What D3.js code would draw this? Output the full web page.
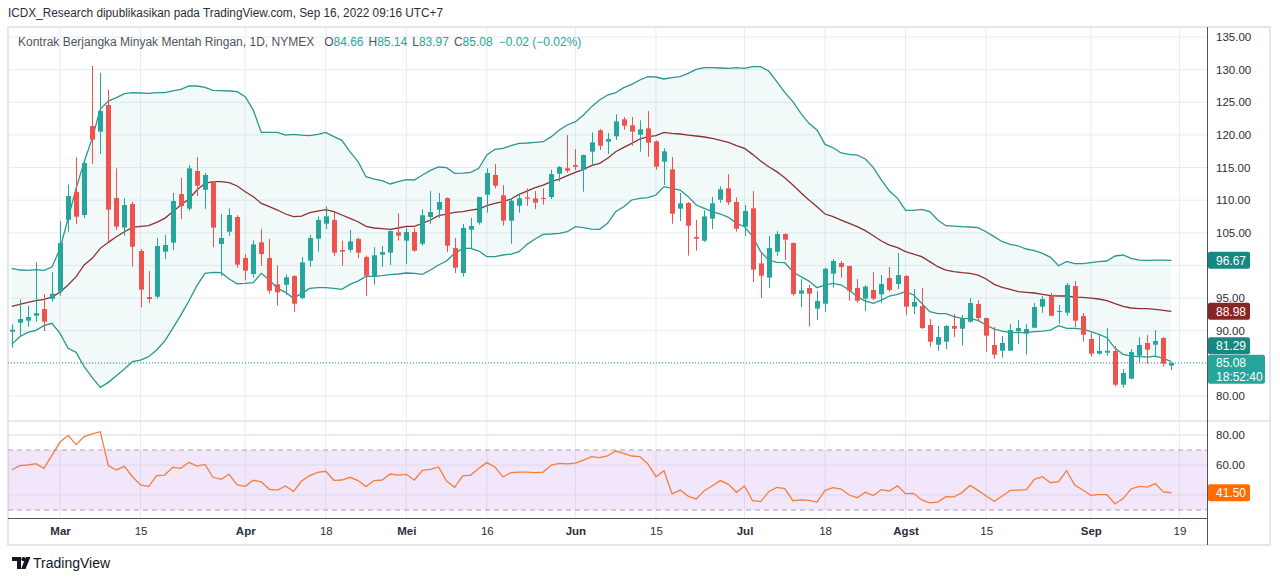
<!DOCTYPE html>
<html>
<head>
<meta charset="utf-8">
<script src="https://cdn.jsdelivr.net/npm/d3@7"></script>
<style>
  body { margin: 0; background: #fff; }
  svg { display: block; font-family: "Liberation Sans", Arial, sans-serif; }
</style>
</head>
<body>
<div id="chart"></div>
<script>
// trading days shown (2022, month-day)
const dates = [
  "02-18","02-22","02-23","02-24","02-25","02-28",
  "03-01","03-02","03-03","03-04","03-07","03-08","03-09","03-10","03-11","03-14","03-15","03-16","03-17","03-18","03-21","03-22","03-23","03-24","03-25","03-28","03-29","03-30","03-31",
  "04-01","04-04","04-05","04-06","04-07","04-08","04-11","04-12","04-13","04-14","04-18","04-19","04-20","04-21","04-22","04-25","04-26","04-27","04-28","04-29",
  "05-02","05-03","05-04","05-05","05-06","05-09","05-10","05-11","05-12","05-13","05-16","05-17","05-18","05-19","05-20","05-23","05-24","05-25","05-26","05-27","05-31",
  "06-01","06-02","06-03","06-06","06-07","06-08","06-09","06-10","06-13","06-14","06-15","06-16","06-17","06-21","06-22","06-23","06-24","06-27","06-28","06-29","06-30",
  "07-01","07-05","07-06","07-07","07-08","07-11","07-12","07-13","07-14","07-15","07-18","07-19","07-20","07-21","07-22","07-25","07-26","07-27","07-28","07-29",
  "08-01","08-02","08-03","08-04","08-05","08-08","08-09","08-10","08-11","08-12","08-15","08-16","08-17","08-18","08-19","08-22","08-23","08-24","08-25","08-26","08-29","08-30","08-31",
  "09-01","09-02","09-06","09-07","09-08","09-09","09-12","09-13","09-14","09-15","09-16"
];

const open = [
  89.85,91.23,91.54,92.3,93.33,94.9,
  95.98,107.0,111.25,107.73,121.36,120.5,124.58,110.33,105.79,109.41,102.21,95.16,95.21,102.11,103.49,110.94,108.7,114.47,111.6,112.9,103.3,105.17,107.42,
  101.14,98.69,103.54,101.14,97.1,97.05,98.38,95.0,100.73,104.1,106.4,106.96,102.36,102.4,104.05,101.29,98.33,101.65,101.96,105.07,
  103.8,105.12,103.33,107.42,108.54,110.33,102.67,98.84,105.48,106.55,110.84,113.86,110.74,106.86,109.16,110.43,110.28,110.33,110.48,114.06,114.88,
  115.39,114.62,117.43,120.7,118.96,119.78,122.39,121.47,120.04,121.0,119.01,115.9,114.72,108.7,109.56,104.36,103.8,107.17,110.07,111.81,109.72,
  105.94,108.75,100.32,98.13,102.11,104.82,103.44,95.67,96.54,93.38,94.14,98.74,100.37,99.91,96.54,94.91,96.24,95.57,98.07,97.15,
  98.38,93.68,93.78,90.87,87.86,88.32,90.72,90.31,91.38,94.09,91.94,87.81,86.94,86.94,89.9,89.55,90.46,93.68,95.32,92.87,92.76,96.85,92.25,
  88.73,86.48,86.63,86.89,81.73,82.65,86.17,88.12,87.86,88.88,84.66
];
const high = [
  90.97,94.8,93.8,100.47,95.62,99.0,
  106.8,112.4,116.6,116.0,130.56,129.5,126.88,114.88,110.28,109.77,102.52,99.15,104.2,104.66,111.1,113.4,115.39,116.6,114.16,112.95,107.88,108.75,107.68,
  101.75,103.85,105.58,104.05,100.0,98.64,98.5,101.29,104.66,107.52,109.05,108.19,103.8,105.43,104.26,101.5,102.8,102.98,105.38,107.98,
  105.84,105.69,108.6,111.4,111.1,110.43,104.2,106.35,107.27,110.49,114.88,115.54,112.33,110.28,110.89,111.81,111.4,111.81,114.7,115.24,119.98,
  117.84,117.0,120.39,120.9,120.29,123.15,122.74,122.74,122.23,123.66,119.17,117.94,116.6,111.1,109.72,106.96,108.44,110.49,112.12,114.0,110.43,
  109.26,111.4,102.0,104.5,105.27,104.92,103.5,97.92,97.0,96.08,99.66,100.98,100.68,99.95,97.92,97.0,98.99,98.53,99.76,101.9,
  98.53,96.39,96.54,91.79,90.72,90.87,92.56,92.4,95.01,94.65,92.0,90.57,89.19,91.02,91.64,91.02,94.24,95.32,95.78,93.94,97.31,97.62,92.71,
  89.65,89.49,90.41,87.66,84.13,87.2,89.03,89.34,90.1,89.03,85.14
];
const low = [
  87.4,89.1,90.62,91.38,89.95,94.45,
  95.37,105.17,106.35,107.3,115.59,117.07,103.64,105.43,104.56,99.81,93.58,94.2,94.9,100.98,102.36,107.1,108.39,110.64,108.65,102.82,98.4,104.5,99.66,
  97.72,98.13,99.96,95.67,93.83,95.47,92.92,94.86,99.81,102.11,105.58,101.45,99.96,102.0,101.09,95.37,97.05,99.81,100.07,103.8,
  100.22,102.11,103.03,106.35,107.27,102.06,98.84,98.28,102.67,106.25,108.08,111.81,106.09,103.33,108.08,109.16,108.65,109.31,110.18,112.84,114.21,
  114.62,111.3,115.29,117.69,117.07,119.22,120.8,118.35,117.43,116.66,114.67,112.33,106.4,106.81,101.5,102.26,103.59,105.58,109.62,109.26,105.17,
  104.5,97.46,95.01,96.59,101.5,100.83,95.37,93.63,90.62,91.64,92.92,96.59,98.13,94.6,94.29,93.02,94.7,94.24,95.98,96.39,
  92.4,92.56,90.26,87.55,86.94,87.2,89.03,87.71,91.23,91.38,86.79,85.71,85.87,86.9,88.01,86.33,90.4,92.76,92.25,91.08,92.3,90.57,88.32,
  86.02,86.33,86.17,81.43,81.27,82.6,85.1,84.95,86.17,84.49,83.97
];
const close = [
  90.16,91.79,92.1,92.7,91.38,95.67,
  103.44,110.64,107.47,115.69,119.27,123.66,108.54,105.94,109.26,102.87,96.29,94.86,102.98,103.13,109.87,109.1,114.88,112.22,113.86,105.79,104.2,107.73,100.12,
  99.2,103.23,101.75,96.13,95.88,98.18,94.14,100.47,104.2,106.96,107.52,101.96,102.11,103.69,101.96,98.43,101.55,102.06,105.27,104.56,
  105.12,102.26,107.68,108.19,109.72,103.03,99.66,105.74,106.04,110.49,114.16,112.22,106.86,109.92,110.28,110.23,109.62,110.23,114.0,115.08,114.52,
  115.13,116.92,118.86,118.35,119.37,122.08,121.41,120.5,120.85,118.81,115.13,117.48,107.93,109.51,106.09,104.1,107.52,109.51,111.66,109.67,105.63,
  108.34,99.35,98.43,102.67,104.82,103.95,95.62,96.18,95.67,94.55,99.5,100.68,99.76,96.13,94.6,96.75,94.91,97.15,96.24,98.53,
  93.68,94.4,90.41,88.32,89.03,90.72,90.31,91.94,94.24,91.94,89.24,86.33,88.12,90.1,90.41,90.26,93.63,94.86,92.3,93.02,97.0,91.54,89.39,
  86.48,86.89,86.94,81.73,83.52,86.74,87.81,87.09,88.42,84.95,85.08
];

// Bollinger bands
const bbUpper = [
  99.55,99.3,99.25,99.35,99.25,99.76,
  102.6,107.2,111.8,115.9,119.47,123.97,125.19,125.7,126.32,126.47,126.42,126.37,126.47,126.47,126.73,126.98,127.49,127.49,127.29,126.83,126.78,126.73,126.62,
  125.86,123.8,120.39,120.39,120.39,119.98,120.09,119.98,119.88,120.09,120.39,119.73,119.17,117.43,115.9,113.6,113.24,112.99,112.48,112.84,
  113.14,113.09,113.86,114.57,115.08,114.98,114.11,114.16,114.26,114.88,116.92,117.79,117.94,118.35,118.71,118.76,118.86,118.96,119.73,120.75,121.52,
  122.03,123.05,124.33,125.35,126.11,126.47,127.24,127.75,128.41,128.92,128.87,128.57,128.77,128.92,129.43,130.05,130.3,130.3,130.25,130.2,130.3,
  130.2,130.45,130.45,129.79,128.16,126.52,125.09,123.3,121.77,120.75,118.55,118.04,117.23,117.02,116.92,116.31,114.98,113.09,111.4,110.28,
  108.44,108.44,108.6,108.24,106.96,106.09,106.04,105.94,105.89,105.79,105.17,104.41,103.64,103.23,102.98,102.52,102.26,101.85,101.24,99.96,100.63,100.27,100.27,
  100.42,100.58,100.68,101.45,101.6,101.09,100.83,100.78,100.83,100.83,100.78
];
const bbMiddle = [
  93.73,94.04,94.35,94.6,94.81,95.16,
  95.88,97.0,98.28,100.07,101.09,102.62,103.54,104.41,105.17,105.84,105.99,106.09,106.6,107.22,108.24,109.26,110.18,111.56,112.58,112.84,112.84,112.68,112.17,
  111.3,110.54,109.51,109.0,108.49,107.88,107.47,107.57,108.08,108.34,108.54,108.24,107.73,107.22,106.7,105.99,105.74,105.63,105.53,105.74,
  105.99,105.99,106.45,106.96,107.62,107.88,108.14,108.24,108.49,108.65,109.16,109.51,109.77,110.18,110.89,111.4,111.91,112.32,112.84,113.24,113.75,
  114.26,114.72,115.29,115.64,116.41,117.43,118.09,118.71,119.37,119.73,119.88,120.39,120.24,120.14,119.98,119.83,119.68,119.47,119.17,118.86,118.35,
  117.94,117.02,116.0,115.13,114.37,113.45,112.33,111.15,110.03,109.0,107.88,107.47,106.96,106.45,105.94,105.33,104.56,103.74,103.13,102.72,
  102.11,101.75,101.34,100.58,99.81,99.3,99.04,98.89,98.79,98.53,97.92,97.1,96.64,96.34,95.98,95.88,95.78,95.57,95.37,95.32,95.32,95.16,95.11,
  95.01,94.86,94.6,94.14,93.73,93.48,93.38,93.38,93.27,93.12,92.97
];
const bbLower = [
  87.91,89.08,89.75,90.06,90.77,91.13,
  89.6,87.3,86.69,84.49,82.8,81.32,82.09,83.11,84.13,85.26,85.51,86.02,87.04,88.42,90.36,92.4,94.55,96.9,98.79,98.94,98.89,97.92,97.2,
  97.26,97.36,98.79,97.77,96.49,95.88,94.96,95.72,96.49,96.59,96.59,96.49,96.34,97.1,97.61,98.33,98.33,98.43,98.58,98.69,
  98.84,98.79,98.64,99.3,100.07,100.68,101.85,102.62,102.62,102.21,101.34,101.34,101.6,101.75,102.11,103.23,104.05,104.76,104.82,104.92,105.17,
  105.94,105.79,105.58,105.53,106.45,108.24,109.0,110.03,110.28,110.38,110.79,112.07,111.81,111.56,110.54,109.26,108.75,108.24,107.88,107.37,106.45,
  105.94,104.41,102.11,100.83,100.47,100.42,99.04,98.28,97.61,96.59,97.0,97.26,97.0,96.24,95.21,94.55,94.19,94.7,95.32,95.57,
  95.98,95.47,94.19,92.92,92.61,92.61,92.15,91.89,91.84,91.59,90.87,90.26,89.95,89.75,89.7,89.7,89.85,89.95,90.1,90.77,90.36,90.36,90.26,
  89.85,89.44,88.93,87.3,86.38,86.12,86.02,85.97,86.12,85.77,85.26
];

// RSI
const rsi = [
  56.7,59.6,60.0,60.9,57.8,66.4,
  75.3,79.8,73.6,78.9,80.7,82.2,59.6,56.7,59.1,52.2,46.7,45.6,52.9,53.3,58.4,57.8,61.8,59.3,60.4,51.8,50.4,53.8,46.7,
  45.8,49.8,48.7,43.8,43.3,46.0,42.4,49.3,52.9,55.1,55.8,49.8,50.0,51.8,49.6,45.6,49.6,50.0,54.0,53.3,
  53.8,50.0,56.4,57.1,58.7,49.3,45.1,52.7,53.3,57.8,61.6,58.7,52.0,54.9,55.3,55.3,54.9,55.3,60.0,61.1,60.7,
  61.3,63.3,65.6,64.9,66.0,69.3,67.8,66.0,65.6,60.7,52.2,56.2,40.7,43.3,39.3,37.3,42.9,46.2,49.6,47.1,41.8,
  46.0,36.2,35.6,42.2,45.1,44.2,36.2,36.7,36.4,35.3,43.1,44.9,44.0,40.0,38.2,41.8,39.6,43.6,42.7,46.2,
  40.9,41.1,36.7,34.7,35.3,38.9,38.7,41.6,46.4,43.1,39.3,35.8,39.3,43.1,43.3,43.6,50.4,52.2,48.2,48.9,56.2,46.7,43.3,
  39.8,40.2,40.2,34.0,37.6,44.0,45.8,45.3,47.6,42.0,41.5
];

// axis ticks and labels
const priceTicks = [80, 85, 90, 95, 100, 105, 110, 115, 120, 125, 130, 135];
const priceTickLabels = [80, 90, 95, 105, 110, 115, 120, 125, 130, 135]; // 85 and 100 sit under tags
const rsiGrid = [80, 60, 40];
const rsiTickLabels = [80, 60];
const xTickDates = ["03-01","03-15","04-01","04-18","05-02","05-16","06-01","06-15","07-01","07-18","08-01","08-15","09-01","09-19"];
const xTickLabels = ["Mar","15","Apr","18","Mei","16","Jun","15","Jul","18","Agst","15","Sep","19"];
const monthLabels = ["Mar","Apr","Mei","Jun","Jul","Agst","Sep"];

// end-of-line labels as printed on the price scale
const bandLabels = ["96.67", "88.98", "81.29"];
const lastPrice = 85.08;
const countdown = "18:52:40";
const rsiLabel = "41.50";

// layout
const width = 1280, height = 581;
const paneL = 8, paneR = 1207, frameR = 1270;
const mainTop = 27, mainBottom = 421, rsiBottom = 518, frameBottom = 545;

const svg = d3.select('#chart')
  .append('svg')
  .attr('width', width)
  .attr('height', height);

// scales
const x = d3.scaleLinear().domain([0, dates.length]).range([11.7, 1179.4]);
const y = d3.scaleLinear().domain([80, 135]).range([396, 37]);
const yR = d3.scaleLinear().domain([30, 70]).range([510, 450]);

const idxOf = d => { const i = dates.indexOf(d); return i < 0 ? dates.length : i; };
const idx = dates.map((d, i) => i);

// clip paths for the two panes
const defs = svg.append('defs');
defs.append('clipPath').attr('id', 'clipMain')
  .append('rect').attr('x', paneL).attr('y', mainTop).attr('width', paneR - paneL).attr('height', mainBottom - mainTop);
defs.append('clipPath').attr('id', 'clipRsi')
  .append('rect').attr('x', paneL).attr('y', mainBottom).attr('width', paneR - paneL).attr('height', rsiBottom - mainBottom);

// header text
svg.append('text')
  .attr('x', 8).attr('y', 17)
  .attr('font-size', 12).attr('fill', '#2a2e39')
  .attr('textLength', 435).attr('lengthAdjust', 'spacingAndGlyphs')
  .text('ICDX_Research dipublikasikan pada TradingView.com, Sep 16, 2022 09:16 UTC+7');

// outer frame
svg.append('rect')
  .attr('x', paneL).attr('y', mainTop)
  .attr('width', frameR - paneL).attr('height', frameBottom - mainTop)
  .attr('fill', 'none').attr('stroke', '#e3e6ea').attr('stroke-width', 2);

// grid lines
const grid = svg.append('g').attr('class', 'grid');
grid.selectAll('line.h')
  .data(priceTicks)
  .enter().append('line')
    .attr('class', 'h')
    .attr('x1', paneL).attr('x2', paneR)
    .attr('y1', d => y(d)).attr('y2', d => y(d))
    .attr('stroke', '#e6edf2');
grid.selectAll('line.v')
  .data(xTickDates)
  .enter().append('line')
    .attr('class', 'v')
    .attr('x1', d => x(idxOf(d))).attr('x2', d => x(idxOf(d)))
    .attr('y1', mainTop).attr('y2', rsiBottom)
    .attr('stroke', '#e6edf2');

// main pane
const main = svg.append('g').attr('clip-path', 'url(#clipMain)');

// bollinger fill + lines
const area = d3.area()
  .x(i => x(i))
  .y0(i => y(bbLower[i]))
  .y1(i => y(bbUpper[i]));
main.append('path').datum(idx)
  .attr('d', area)
  .attr('fill', 'rgba(38,150,154,0.06)');

const bandLine = arr => d3.line().x(i => x(i)).y(i => y(arr[i]));
main.append('path').datum(idx)
  .attr('d', bandLine(bbUpper))
  .attr('fill', 'none').attr('stroke', '#2b9690').attr('stroke-width', 1.3);
main.append('path').datum(idx)
  .attr('d', bandLine(bbLower))
  .attr('fill', 'none').attr('stroke', '#2b9690').attr('stroke-width', 1.3);
main.append('path').datum(idx)
  .attr('d', bandLine(bbMiddle))
  .attr('fill', 'none').attr('stroke', '#8b3232').attr('stroke-width', 1.3);

// last price dotted line
main.append('line')
  .attr('x1', paneL).attr('x2', paneR)
  .attr('y1', y(lastPrice)).attr('y2', y(lastPrice))
  .attr('stroke', '#26a69a').attr('stroke-width', 1)
  .attr('stroke-dasharray', '1,2');

// candles
const up = '#26a69a', down = '#ef5350';
const candles = main.selectAll('g.candle')
  .data(idx)
  .enter().append('g')
    .attr('class', 'candle');

candles.append('line')
  .attr('x1', i => Math.round(x(i)) + 0.5)
  .attr('x2', i => Math.round(x(i)) + 0.5)
  .attr('y1', i => y(high[i]))
  .attr('y2', i => y(low[i]))
  .attr('stroke', i => close[i] >= open[i] ? up : down)
  .attr('stroke-width', 1);

candles.append('rect')
  .attr('x', i => Math.round(x(i)) - 2)
  .attr('width', 5)
  .attr('y', i => y(Math.max(open[i], close[i])))
  .attr('height', i => Math.max(1, Math.abs(y(open[i]) - y(close[i]))))
  .attr('fill', i => close[i] >= open[i] ? up : down);

// legend
const legend = svg.append('text')
  .attr('x', 18).attr('y', 46)
  .attr('font-size', 12).attr('fill', '#50535e');
legend.append('tspan').text('Kontrak Berjangka Minyak Mentah Ringan, 1D, NYMEX');
const ohlc = [['O', open[144]], ['H', high[144]], ['L', low[144]], ['C', close[144]]];
ohlc.forEach(([k, v], n) => {
  legend.append('tspan').attr('dx', n === 0 ? 10 : 5).text(k);
  legend.append('tspan').attr('fill', up).text(v.toFixed(2));
});
legend.append('tspan').attr('dx', 6).attr('fill', up)
  .text('\u22120.02 (\u22120.02%)');

// rsi pane
const rsiG = svg.append('g').attr('clip-path', 'url(#clipRsi)');
rsiG.append('rect')
  .attr('x', paneL).attr('width', paneR - paneL)
  .attr('y', yR(70)).attr('height', yR(30) - yR(70))
  .attr('fill', 'rgba(170,90,230,0.15)');
rsiG.selectAll('line.rg')
  .data(rsiGrid)
  .enter().append('line')
    .attr('class', 'rg')
    .attr('x1', paneL).attr('x2', paneR)
    .attr('y1', d => yR(d)).attr('y2', d => yR(d))
    .attr('stroke', '#e0d8ea');
rsiG.selectAll('line.band')
  .data([70, 30])
  .enter().append('line')
    .attr('class', 'band')
    .attr('x1', paneL).attr('x2', paneR)
    .attr('y1', d => yR(d)).attr('y2', d => yR(d))
    .attr('stroke', '#a7a3b0').attr('stroke-dasharray', '5,4');
rsiG.append('path').datum(idx)
  .attr('d', d3.line().x(i => x(i)).y(i => yR(rsi[i])))
  .attr('fill', 'none').attr('stroke', '#f57f3a').attr('stroke-width', 1.3);

// separator + axis lines
svg.append('line')
  .attr('x1', paneL).attr('x2', frameR)
  .attr('y1', mainBottom).attr('y2', mainBottom)
  .attr('stroke', '#e0e3eb').attr('stroke-width', 1.5);
svg.append('line')
  .attr('x1', paneL).attr('x2', paneR)
  .attr('y1', rsiBottom + 0.5).attr('y2', rsiBottom + 0.5)
  .attr('stroke', '#50535e');
svg.append('line')
  .attr('x1', paneR + 0.5).attr('x2', paneR + 0.5)
  .attr('y1', mainTop).attr('y2', frameBottom)
  .attr('stroke', '#50535e');

// price axis
const yAxis = d3.axisRight(y)
  .tickValues(priceTickLabels)
  .tickSize(0)
  .tickPadding(9)
  .tickFormat(d3.format('.2f'));
const yAxisGroup = svg.append('g')
  .attr('transform', `translate(${paneR}, 0)`)
  .call(yAxis);

const rsiAxis = d3.axisRight(yR)
  .tickValues(rsiTickLabels)
  .tickSize(0)
  .tickPadding(9)
  .tickFormat(d3.format('.2f'));
const rsiAxisGroup = svg.append('g')
  .attr('transform', `translate(${paneR}, 0)`)
  .call(rsiAxis);

// time axis
const xAxis = d3.axisBottom(x)
  .tickValues(xTickDates.map(idxOf))
  .tickSize(0)
  .tickPadding(9)
  .tickFormat((d, i) => xTickLabels[i]);
const xAxisGroup = svg.append('g')
  .attr('transform', `translate(0, ${rsiBottom})`)
  .call(xAxis);

[yAxisGroup, rsiAxisGroup, xAxisGroup].forEach(g => {
  g.select('.domain').remove();
  g.selectAll('text')
    .attr('font-family', '"Liberation Sans", Arial, sans-serif')
    .attr('font-size', 11.5)
    .attr('fill', '#2a2e39');
});
xAxisGroup.selectAll('text')
  .attr('font-weight', (d, i) => monthLabels.includes(xTickLabels[i]) ? 'bold' : 'normal');

// value tags on the price scale
const tag = (yc, txt, fill, w = 42, h = 17) => {
  svg.append('rect')
    .attr('x', paneR + 1).attr('y', yc - h / 2)
    .attr('width', w).attr('height', h).attr('rx', 2)
    .attr('fill', fill);
  svg.append('text')
    .attr('x', paneR + 9).attr('y', yc + 4.5)
    .attr('font-size', 12).attr('fill', '#fff')
    .text(txt);
};

// last price tag with countdown
const lpY = y(lastPrice);
svg.append('rect')
  .attr('x', paneR + 1).attr('y', lpY - 8)
  .attr('width', 57).attr('height', 29).attr('rx', 2)
  .attr('fill', '#26a69a');
svg.append('text')
  .attr('x', paneR + 9).attr('y', lpY + 4.5)
  .attr('font-size', 12).attr('fill', '#fff')
  .text(lastPrice.toFixed(2));
svg.append('text')
  .attr('x', paneR + 9).attr('y', lpY + 18)
  .attr('font-size', 12).attr('fill', '#fff')
  .text(countdown);

const last = dates.length - 1;
tag(y(bbUpper[last]), bandLabels[0], '#178783');
tag(y(bbMiddle[last]), bandLabels[1], '#8a2525');
tag(Math.min(y(bbLower[last]), lpY - 17), bandLabels[2], '#178783');
tag(yR(rsi[last]), rsiLabel, '#ff6d00');

// tradingview mark
const logo = svg.append('g').attr('fill', '#131722');
logo.append('path').attr('d', 'M12,557 h9 v12 h-4 v-8 h-5 z');
logo.append('circle').attr('cx', 23.5).attr('cy', 559.2).attr('r', 2.1);
logo.append('path').attr('d', 'M26,557 h4.5 l-5,12 h-4.5 z');
svg.append('text')
  .attr('x', 33).attr('y', 568)
  .attr('font-size', 14).attr('fill', '#131722')
  .text('TradingView');
</script>
</body>
</html>
